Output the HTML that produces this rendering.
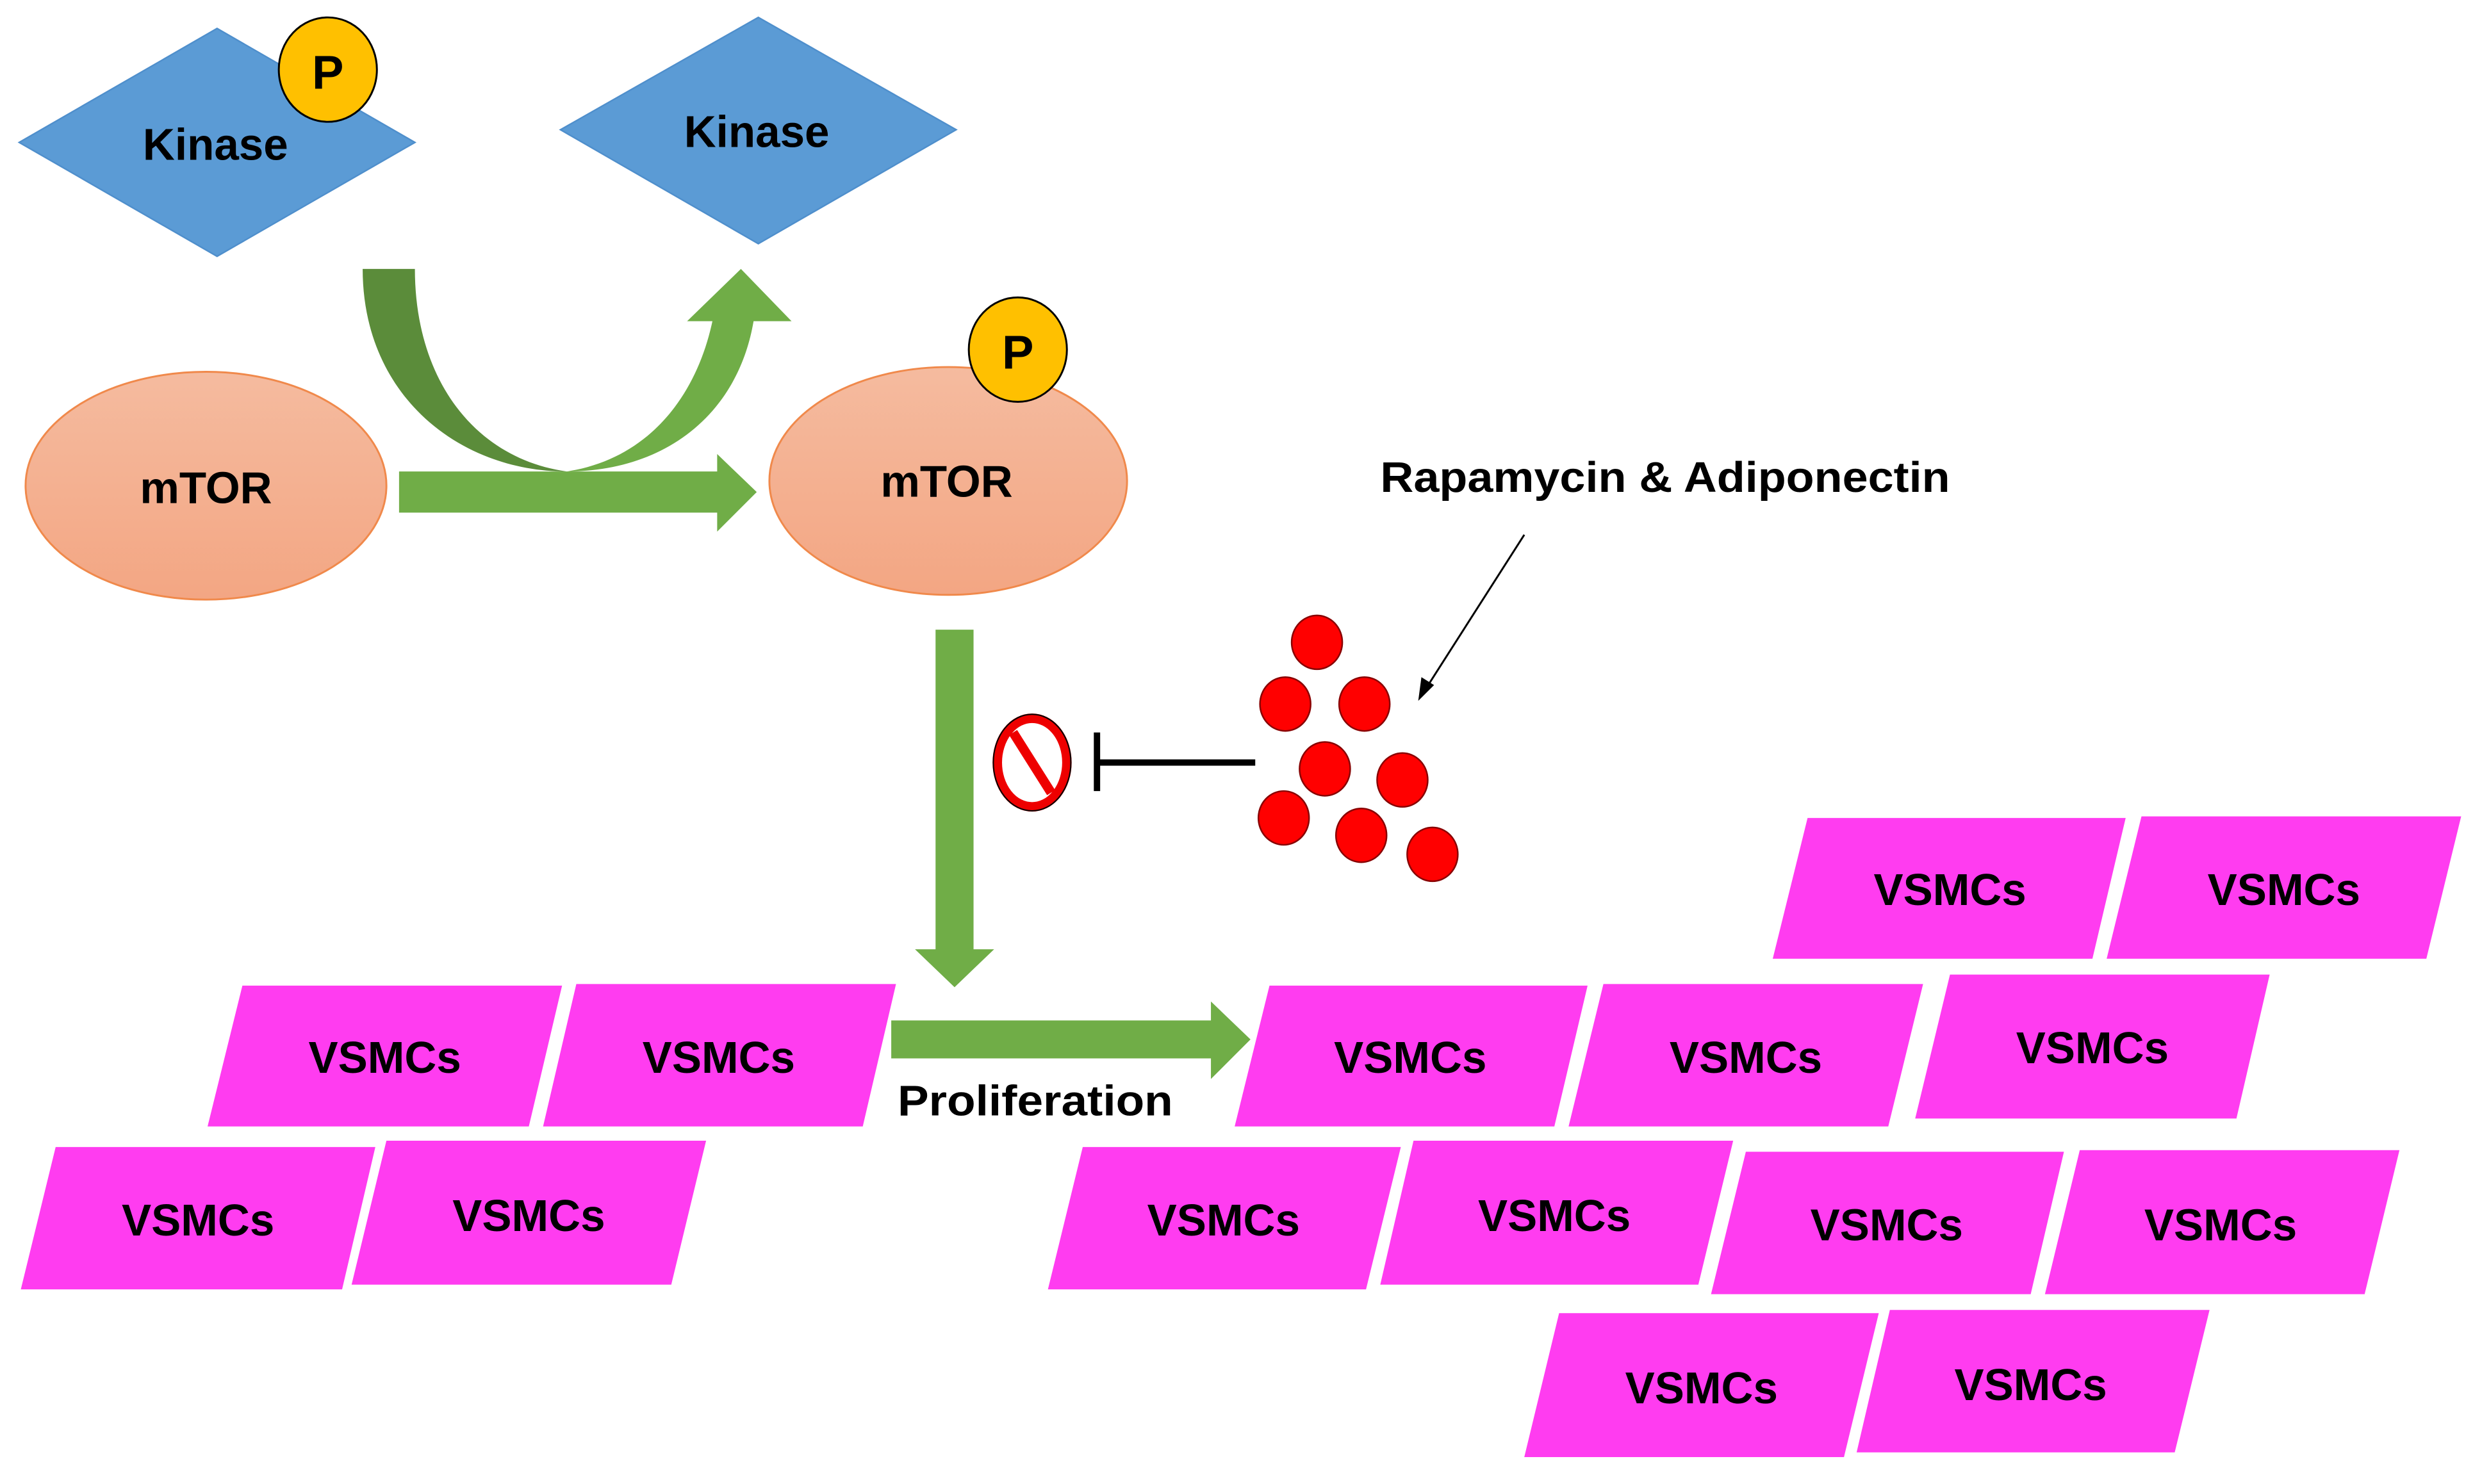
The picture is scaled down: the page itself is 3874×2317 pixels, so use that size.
<!DOCTYPE html>
<html><head><meta charset="utf-8"><style>
html,body{margin:0;padding:0;background:#fff;}
svg{display:block;}
text{font-family:"Liberation Sans",sans-serif;font-weight:bold;fill:#000;}
</style></head><body>
<svg width="3874" height="2317" viewBox="0 0 1568 938" xmlns="http://www.w3.org/2000/svg">
<defs>
<linearGradient id="g" x1="0" y1="0" x2="0" y2="1">
<stop offset="0" stop-color="#f5bb9f"/><stop offset="1" stop-color="#f3a683"/>
</linearGradient>
</defs>
<rect width="1568" height="938" fill="#fff"/>
<polygon points="12,90 137,18 262,90 137,162" fill="#5b9bd5" stroke="#4f8fcc" stroke-width="1"/>
<text x="136" y="101" font-size="28" text-anchor="middle">Kinase</text>
<ellipse cx="207" cy="44" rx="31" ry="33" fill="#ffc000" stroke="#000" stroke-width="1.2"/>
<text x="207" y="56" font-size="30" text-anchor="middle">P</text>
<polygon points="354,82 479,11 604,82 479,154" fill="#5b9bd5" stroke="#4f8fcc" stroke-width="1"/>
<text x="478" y="93" font-size="28" text-anchor="middle">Kinase</text>
<path d="M229,170 L262,170 C262,240 300,290 358,298 C290,298 229,250 229,170 Z" fill="#5b8c3a"/>
<path d="M358,298 C410,290 440,250 450,203 L434,203 L468,170 L500,203 L476,203 C466,262 420,298 358,298 Z" fill="#70ad47"/>
<polygon points="252,298 453,298 453,287 478,311 453,336 453,324 252,324" fill="#70ad47"/>
<ellipse cx="130" cy="307" rx="114" ry="72" fill="url(#g)" stroke="#f0894b" stroke-width="1.2"/>
<text x="130" y="318" font-size="28" text-anchor="middle">mTOR</text>
<ellipse cx="599" cy="304" rx="113" ry="72" fill="url(#g)" stroke="#f0894b" stroke-width="1.2"/>
<text x="598" y="314" font-size="28" text-anchor="middle">mTOR</text>
<ellipse cx="643" cy="221" rx="31" ry="33" fill="#ffc000" stroke="#000" stroke-width="1.2"/>
<text x="643" y="233" font-size="30" text-anchor="middle">P</text>
<polygon points="591,398 615,398 615,600 628,600 603,624 578,600 591,600" fill="#70ad47"/>
<ellipse cx="652" cy="482" rx="22" ry="28" fill="none" stroke="#e00" stroke-width="6"/>
<ellipse cx="652" cy="482" rx="24.5" ry="30.5" fill="none" stroke="#000" stroke-width="0.8"/>
<line x1="640" y1="463" x2="664" y2="501" stroke="#e00" stroke-width="6"/>
<line x1="693" y1="463" x2="693" y2="500" stroke="#000" stroke-width="4"/>
<line x1="693" y1="482" x2="793" y2="482" stroke="#000" stroke-width="4"/>
<g fill="#f00" stroke="#800" stroke-width="1">
<ellipse cx="832" cy="406" rx="16" ry="17"/>
<ellipse cx="812" cy="445" rx="16" ry="17"/>
<ellipse cx="862" cy="445" rx="16" ry="17"/>
<ellipse cx="837" cy="486" rx="16" ry="17"/>
<ellipse cx="886" cy="493" rx="16" ry="17"/>
<ellipse cx="811" cy="517" rx="16" ry="17"/>
<ellipse cx="860" cy="528" rx="16" ry="17"/>
<ellipse cx="905" cy="540" rx="16" ry="17"/>
</g>
<line x1="963" y1="338" x2="901" y2="435" stroke="#000" stroke-width="1.2"/>
<polygon points="896,443 898,428 906,433" fill="#000"/>
<text x="1052" y="311" font-size="27" text-anchor="middle" textLength="360" lengthAdjust="spacingAndGlyphs">Rapamycin &amp; Adiponectin</text>
<polygon points="563,645 765,645 765,633 790,657 765,682 765,669 563,669" fill="#70ad47"/>
<text x="654" y="705" font-size="27" text-anchor="middle" textLength="174" lengthAdjust="spacingAndGlyphs">Proliferation</text>
<g fill="#ff3cf0">
<polygon points="153,623 355,623 334,712 131,712"/>
<polygon points="364,622 566,622 545,712 343,712"/>
<polygon points="35,725 237,725 216,815 13,815"/>
<polygon points="244,721 446,721 424,812 222,812"/>
<polygon points="1142,517 1343,517 1322,606 1120,606"/>
<polygon points="1353,516 1555,516 1533,606 1331,606"/>
<polygon points="802,623 1003,623 982,712 780,712"/>
<polygon points="1013,622 1215,622 1193,712 991,712"/>
<polygon points="1232,616 1434,616 1413,707 1210,707"/>
<polygon points="684,725 885,725 863,815 662,815"/>
<polygon points="893,721 1095,721 1073,812 872,812"/>
<polygon points="1103,728 1304,728 1283,818 1081,818"/>
<polygon points="1314,727 1516,727 1494,818 1292,818"/>
<polygon points="985,830 1187,830 1165,921 963,921"/>
<polygon points="1194,828 1396,828 1374,918 1173,918"/>
</g>
<g font-size="28" text-anchor="middle">
<text x="243" y="678">VSMCs</text>
<text x="454" y="678">VSMCs</text>
<text x="125" y="781">VSMCs</text>
<text x="334" y="778">VSMCs</text>
<text x="1232" y="572">VSMCs</text>
<text x="1443" y="572">VSMCs</text>
<text x="891" y="678">VSMCs</text>
<text x="1103" y="678">VSMCs</text>
<text x="1322" y="672">VSMCs</text>
<text x="773" y="781">VSMCs</text>
<text x="982" y="778">VSMCs</text>
<text x="1192" y="784">VSMCs</text>
<text x="1403" y="784">VSMCs</text>
<text x="1075" y="887">VSMCs</text>
<text x="1283" y="885">VSMCs</text>
</g>
</svg>
</body></html>
